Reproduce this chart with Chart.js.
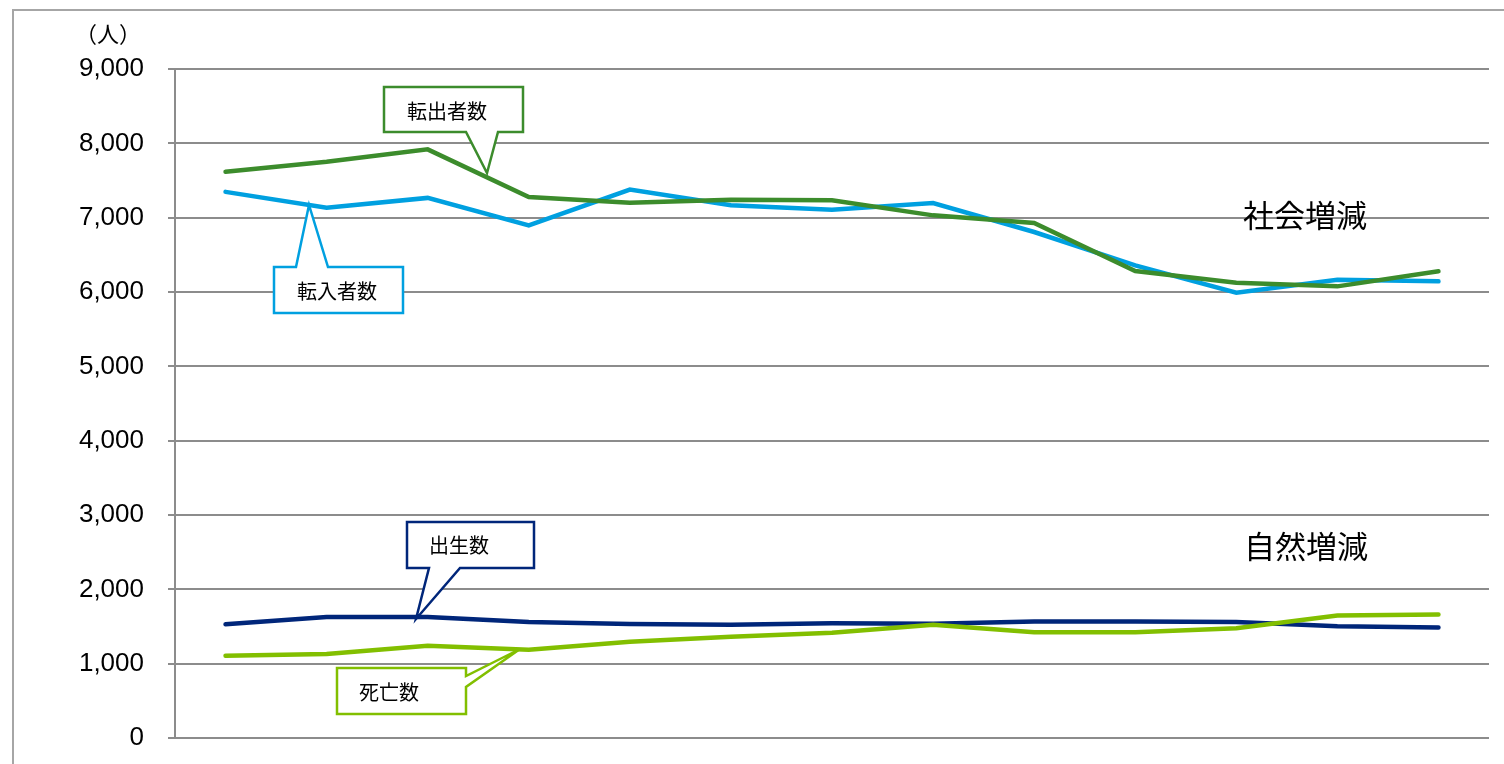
<!DOCTYPE html>
<html>
<head>
<meta charset="utf-8">
<script src="https://cdn.jsdelivr.net/npm/chart.js@4/dist/chart.umd.min.js"></script>
<style>
  body { margin: 0; background: #fff; }
  #wrap { width: 1504px; height: 764px; }
  canvas { display: block; }
</style>
</head>
<body>
<div id="wrap"><canvas id="lineChart" width="1504" height="764"></canvas></div>
<script>
// 年次（横軸ラベルは表示されていない）
const categories = ['1', '2', '3', '4', '5', '6', '7', '8', '9', '10', '11', '12', '13'];

const tennyu = [7347, 7135, 7266, 6896, 7377, 7166, 7108, 7197, 6807, 6359, 5990, 6166, 6143];
const tenshutsu = [7617, 7752, 7919, 7279, 7202, 7242, 7233, 7031, 6928, 6283, 6126, 6076, 6278];
const shussei = [1529, 1628, 1628, 1561, 1534, 1525, 1543, 1538, 1568, 1568, 1559, 1505, 1486];
const shibou = [1108, 1130, 1242, 1188, 1296, 1363, 1417, 1525, 1423, 1423, 1477, 1649, 1662];

const yTicks = [0, 1000, 2000, 3000, 4000, 5000, 6000, 7000, 8000, 9000];

const jpFont = '"Noto Sans CJK JP", "Noto Sans", sans-serif';

// 吹き出し: box = [left, top, right, bottom], 開口部と先端
const callouts = [
    { text: '転出者数', color: '#3c8c2c', box: [384, 87, 523, 132], side: 'bottom', gap: [466, 498], tip: [487, 173], tx: 447, ty: 111 },
    { text: '転入者数', color: '#00a0e0', box: [274, 267, 403, 313], side: 'top', gap: [296, 328], tip: [309, 205], tx: 337, ty: 291 },
    { text: '出生数', color: '#00267a', box: [407, 522, 534, 568], side: 'bottom', gap: [429, 460], tip: [416, 619], tx: 459, ty: 545 },
    { text: '死亡数', color: '#82bf00', box: [337, 668, 466, 714], side: 'right', gap: [676, 687], tip: [520, 649], tx: 389, ty: 692 }
];

const extras = {
    id: 'extras',
    beforeDraw(chart) {
        const c = chart.ctx;
        c.save();
        c.strokeStyle = '#a6a6a6';
        c.lineWidth = 2;
        c.strokeRect(13, 10, 1600, 900);
        c.restore();
    },
    afterDraw(chart) {
        const c = chart.ctx;
        c.save();
        c.fillStyle = '#000';
        c.textBaseline = 'middle';
        c.textAlign = 'center';
        c.font = '22px ' + jpFont;
        c.fillText('（人）', 108, 34);
        c.font = '31px ' + jpFont;
        c.fillText('社会増減', 1305, 215);
        c.fillText('自然増減', 1306, 546);

        callouts.forEach(function (co) {
            const [l, t, r, b] = co.box;
            c.beginPath();
            if (co.side === 'bottom') {
                c.moveTo(l, t); c.lineTo(r, t); c.lineTo(r, b);
                c.lineTo(co.gap[1], b); c.lineTo(co.tip[0], co.tip[1]); c.lineTo(co.gap[0], b);
                c.lineTo(l, b);
            } else if (co.side === 'top') {
                c.moveTo(l, t); c.lineTo(co.gap[0], t); c.lineTo(co.tip[0], co.tip[1]);
                c.lineTo(co.gap[1], t); c.lineTo(r, t); c.lineTo(r, b); c.lineTo(l, b);
            } else {
                c.moveTo(l, t); c.lineTo(r, t); c.lineTo(r, co.gap[0]);
                c.lineTo(co.tip[0], co.tip[1]); c.lineTo(r, co.gap[1]);
                c.lineTo(r, b); c.lineTo(l, b);
            }
            c.closePath();
            c.fillStyle = '#fff';
            c.fill();
            c.strokeStyle = co.color;
            c.lineWidth = 2.5;
            c.lineJoin = 'miter';
            c.stroke();
            c.fillStyle = '#000';
            c.font = '20px ' + jpFont;
            c.fillText(co.text, co.tx, co.ty);
        });
        c.restore();
    }
};

function line(label, data, color, order) {
    return {
        label: label,
        data: data,
        borderColor: color,
        backgroundColor: color,
        borderWidth: 4.5,
        borderCapStyle: 'round',
        pointRadius: 0,
        tension: 0,
        fill: false,
        order: order
    };
}

function drawLineChart() {
    "use strict";
    let ctx = document.getElementById("lineChart");
    let lineChart = new Chart(ctx, {
        type: 'line',
        data: {
            labels: categories,
            datasets: [
                line('転入者数', tennyu, '#00a0e0', 1),
                line('転出者数', tenshutsu, '#3c8c2c', 0),
                line('出生数', shussei, '#00267a', 1),
                line('死亡数', shibou, '#82bf00', 0)
            ]
        },
        options: {
            responsive: false,
            animation: false,
            layout: { padding: { left: 0, top: 69, right: 15, bottom: 26 } },
            plugins: {
                legend: { display: false },
                tooltip: { enabled: false }
            },
            scales: {
                x: {
                    display: false,
                    offset: true
                },
                y: {
                    min: 0,
                    max: 9000,
                    afterBuildTicks: function (scale) {
                        scale.ticks = yTicks.map(function (v) { return { value: v }; });
                    },
                    afterFit: function (scale) {
                        scale.width = 175;
                        scale.paddingTop = 0;
                        scale.paddingBottom = 0;
                    },
                    grid: { color: '#8c8c8c', lineWidth: 2, tickLength: 7 },
                    border: { color: '#8c8c8c', width: 2 },
                    ticks: {
                        padding: 24,
                        color: '#000',
                        font: { family: '"Liberation Sans", Arial, sans-serif', size: 26 },
                        callback: function (v) { return v.toLocaleString('en-US'); }
                    }
                }
            }
        },
        plugins: [extras]
    });
    console.log(JSON.stringify(lineChart.chartArea), lineChart.height);
}
drawLineChart();
</script>
</body>
</html>
